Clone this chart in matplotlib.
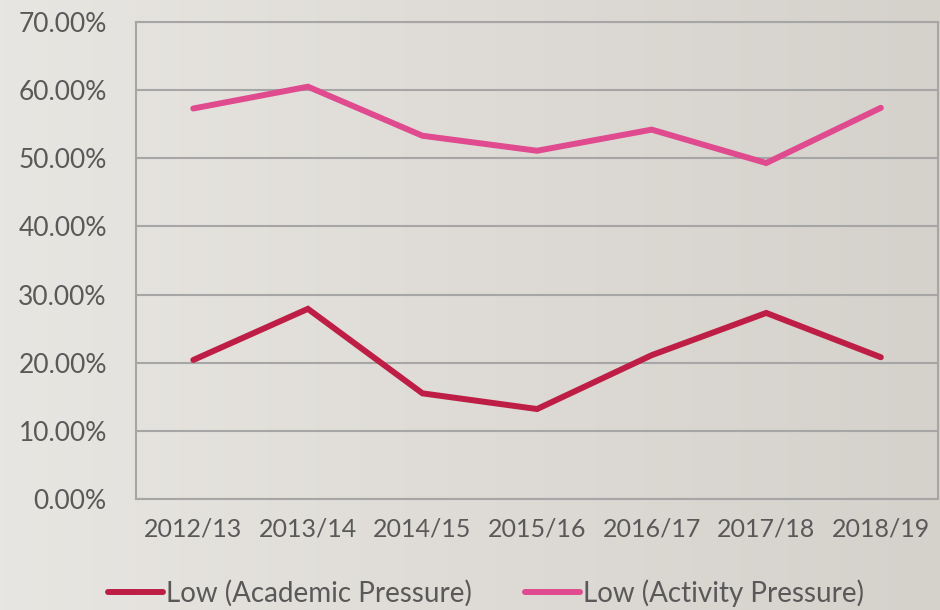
import numpy as np
import matplotlib.pyplot as plt
from matplotlib.ticker import PercentFormatter

years = ['2012/13', '2013/14', '2014/15', '2015/16', '2016/17', '2017/18', '2018/19']
academic = [20.4, 27.9, 15.5, 13.2, 21.1, 27.3, 20.8]
activity = [57.3, 60.5, 53.3, 51.1, 54.2, 49.3, 57.4]
series_names = ['Low (Academic Pressure)', 'Low (Activity Pressure)']

plt.rcParams['font.family'] = ['Lato', 'DejaVu Sans']
text_col = '#595959'
grid_col = '#a6a6a6'

fig = plt.figure(figsize=(9.4, 6.1), dpi=100)

# soft left-to-right gradient background
bg = fig.add_axes([0, 0, 1, 1], zorder=-10)
grad = np.linspace(0, 1, 256).reshape(1, -1)
bg.imshow(grad, aspect='auto', cmap=plt.matplotlib.colors.LinearSegmentedColormap.from_list(
    'bg', ['#e8e6e2', '#d5d1cb']), extent=[0, 1, 0, 1])
bg.axis('off')

ax = fig.add_axes([0.1447, 0.182, 0.8533, 0.782])
ax.patch.set_alpha(0)
x = np.arange(len(years))
ax.plot(x, academic, color='#be1e45', lw=4.3, solid_capstyle='round',
        solid_joinstyle='miter', label=series_names[0])
ax.plot(x, activity, color='#e04a8f', lw=4.3, solid_capstyle='round',
        solid_joinstyle='miter', label=series_names[1])

ax.set_xlim(-0.5, len(years) - 0.5)
ax.set_ylim(0, 70)
ax.set_yticks(np.arange(0, 71, 10))
ax.yaxis.set_major_formatter(PercentFormatter(decimals=2))
ax.set_xticks(x)
ax.set_xticklabels(years)
ax.grid(axis='y', color=grid_col, lw=1.5)
ax.set_axisbelow(True)
for s in ax.spines.values():
    s.set_color(grid_col)
    s.set_linewidth(1.5)
ax.tick_params(length=0, colors=text_col, labelsize=19)
ax.tick_params(axis='y', pad=21)
ax.tick_params(axis='x', pad=13, labelsize=18)

fig.legend(loc='center', bbox_to_anchor=(486 / 940, 0.028), ncol=2, frameon=False,
           fontsize=20, labelcolor=text_col, handlelength=2.0, handletextpad=0.1,
           columnspacing=1.9)

fig.savefig('out.png', dpi=100)
